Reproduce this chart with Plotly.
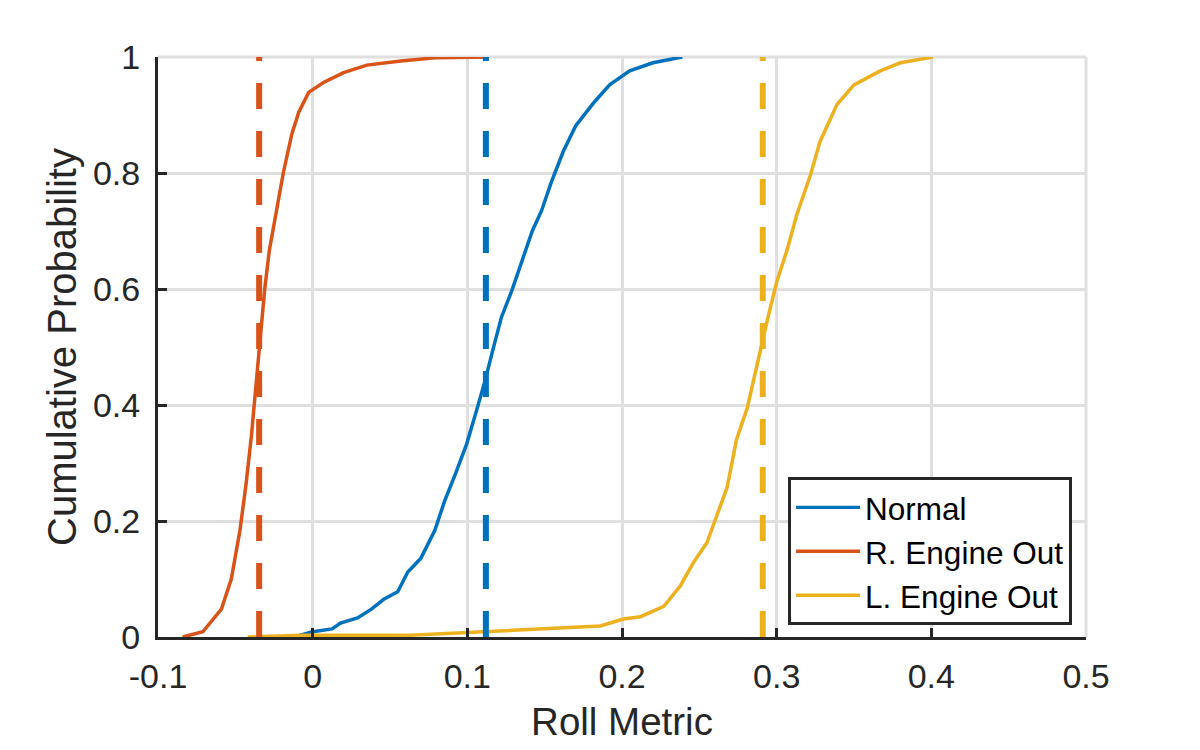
import plotly.graph_objects as go

# Read-off points of the empirical CDFs (Roll Metric vs cumulative probability)
normal_x = [-0.012, 0.0, 0.0126, 0.018, 0.029, 0.038, 0.046, 0.055, 0.0615, 0.070, 0.079,
            0.0854, 0.092, 0.0996, 0.106, 0.1115, 0.116, 0.122, 0.129, 0.135, 0.142, 0.148,
            0.154, 0.162, 0.170, 0.182, 0.192, 0.205, 0.220, 0.239]
normal_y = [0.0, 0.009, 0.014, 0.024, 0.033, 0.048, 0.065, 0.078, 0.112, 0.136, 0.184,
            0.235, 0.279, 0.333, 0.391, 0.442, 0.49, 0.551, 0.599, 0.646, 0.70, 0.735,
            0.782, 0.837, 0.881, 0.922, 0.952, 0.976, 0.99, 1.0]

r_out_x = [-0.084, -0.071, -0.059, -0.0526, -0.047, -0.043, -0.0396, -0.0367, -0.034,
           -0.031, -0.028, -0.024, -0.019, -0.0135, -0.009, -0.0026, 0.007, 0.020, 0.035,
           0.057, 0.079, 0.114]
r_out_y = [0.0, 0.009, 0.048, 0.10, 0.184, 0.265, 0.347, 0.43, 0.51, 0.60, 0.667, 0.728,
           0.80, 0.867, 0.905, 0.939, 0.956, 0.973, 0.986, 0.993, 0.9986, 1.0]

l_out_x = [-0.042, -0.0075, 0.063, 0.111, 0.143, 0.173, 0.186, 0.201, 0.212, 0.227, 0.2377,
           0.2463, 0.255, 0.260, 0.268, 0.274, 0.281, 0.285, 0.289, 0.295, 0.300, 0.3067,
           0.313, 0.3218, 0.328, 0.339, 0.350, 0.367, 0.380, 0.401]
l_out_y = [0.0, 0.003, 0.003, 0.009, 0.014, 0.017, 0.019, 0.031, 0.035, 0.053, 0.088,
           0.129, 0.163, 0.20, 0.258, 0.34, 0.395, 0.442, 0.49, 0.558, 0.612, 0.667,
           0.728, 0.796, 0.854, 0.918, 0.952, 0.976, 0.99, 1.0]

# Dashed reference lines (medians)
medians = {"Normal": 0.112, "R. Engine Out": -0.0346, "L. Engine Out": 0.291}

COLORS = {"Normal": "#0072BD", "R. Engine Out": "#D95319", "L. Engine Out": "#EDB120"}
FONT = "Liberation Sans, Arial, Helvetica, sans-serif"
INK = "#262626"
GRID = "#dfdfdf"

fig = go.Figure()

series = [("Normal", normal_x, normal_y),
          ("R. Engine Out", r_out_x, r_out_y),
          ("L. Engine Out", l_out_x, l_out_y)]

for name, xs, ys in series:
    fig.add_trace(go.Scatter(x=xs, y=ys, mode="lines", name=name,
                             line=dict(color=COLORS[name], width=3.5)))

for name, xm in medians.items():
    fig.add_trace(go.Scatter(x=[xm, xm], y=[0, 1], mode="lines", showlegend=False,
                             hoverinfo="skip",
                             line=dict(color=COLORS[name], width=6, dash="26px,22px")))

axis_common = dict(showgrid=True, gridcolor=GRID, gridwidth=3, automargin=False,
                   zeroline=False, showline=True, linecolor=INK, linewidth=3,
                   ticks="inside", ticklen=9, tickwidth=3, tickcolor=INK,
                   mirror=False, tickfont=dict(size=34, color=INK, family=FONT))

fig.update_xaxes(range=[-0.1, 0.5], tickvals=[-0.1, 0, 0.1, 0.2, 0.3, 0.4, 0.5],
                 ticktext=["-0.1", "0", "0.1", "0.2", "0.3", "0.4", "0.5"],
                 ticklabelstandoff=7,
                 title=dict(text="Roll Metric", font=dict(size=38.5, color=INK, family=FONT),
                            standoff=18),
                 **axis_common)
fig.update_yaxes(range=[0, 1], tickvals=[0, 0.2, 0.4, 0.6, 0.8, 1],
                 ticktext=["0", "0.2", "0.4", "0.6", "0.8", "1"],
                 ticklabelstandoff=8,
                 title=dict(text="Cumulative Probability",
                            font=dict(size=40, color=INK, family=FONT), standoff=4),
                 **axis_common)

# grid lines on the top and right edges of the axes box
fig.add_shape(type="line", xref="paper", yref="paper", x0=1, x1=1, y0=0, y1=1,
              line=dict(color=GRID, width=3), layer="below")
fig.add_shape(type="line", xref="paper", yref="paper", x0=0, x1=1, y0=1, y1=1,
              line=dict(color=GRID, width=3), layer="below")

fig.update_layout(
    width=1185, height=735,
    margin=dict(l=150, r=107, t=49, b=106),
    paper_bgcolor="white", plot_bgcolor="white",
    font=dict(family=FONT, color=INK),
    legend=dict(x=0.985, y=0.02, xanchor="right", yanchor="bottom",
                bgcolor="white", bordercolor=INK, borderwidth=3,
                font=dict(size=31.5, color="#000000", family=FONT),
                itemwidth=64, tracegroupgap=0),
    showlegend=True,
)

fig.write_html("out.html")
